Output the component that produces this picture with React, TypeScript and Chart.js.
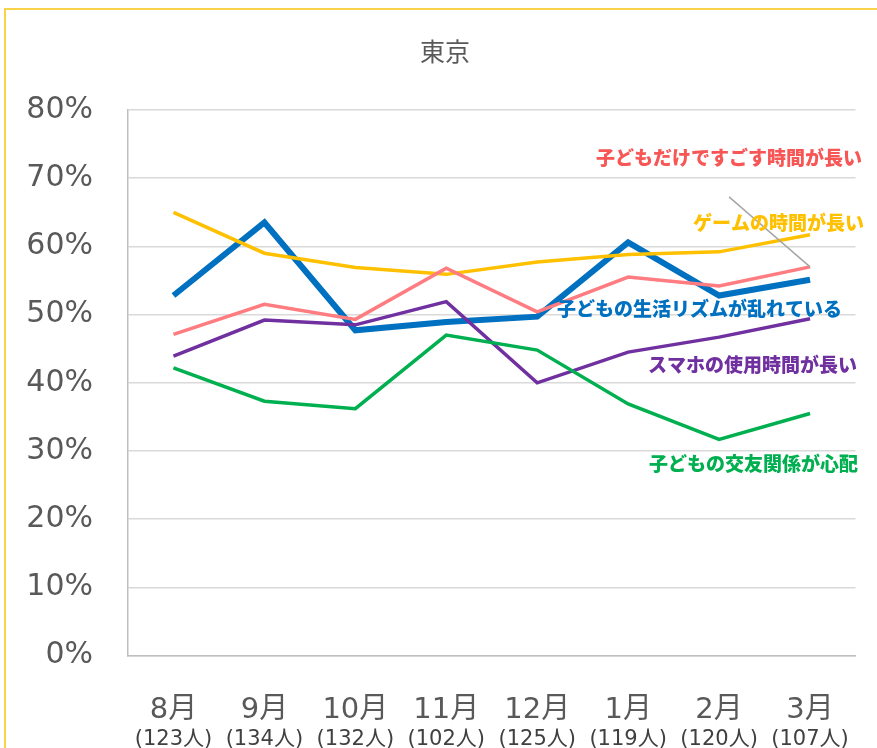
import React, { useEffect, useRef } from "react";
import { Chart, registerables } from "chart.js";

Chart.register(...registerables);

const months = ["8月", "9月", "10月", "11月", "12月", "1月", "2月", "3月"];
const counts = ["(123人)", "(134人)", "(132人)", "(102人)", "(125人)", "(119人)", "(120人)", "(107人)"];
const yTicks = [0, 10, 20, 30, 40, 50, 60, 70, 80];

const rhythm = [52.8, 63.5, 47.7, 48.9, 49.7, 60.6, 52.8, 55.1];
const game = [65.0, 59.0, 56.9, 55.9, 57.7, 58.8, 59.2, 61.7];
const alone = [47.1, 51.5, 49.3, 56.8, 50.4, 55.5, 54.2, 57.0];
const phone = [43.9, 49.2, 48.5, 51.9, 40.0, 44.5, 46.7, 49.4];
const friends = [42.2, 37.3, 36.2, 47.0, 44.8, 36.9, 31.7, 35.5];

const seriesNames = [
  "子どもだけですごす時間が長い",
  "ゲームの時間が長い",
  "子どもの交友関係が心配",
  "スマホの使用時間が長い",
  "子どもの生活リズムが乱れている",
];

const title = "東京";

const CJK = "'Noto Sans CJK JP', sans-serif";
const NUM = "'DejaVu Sans', 'Noto Sans CJK JP', sans-serif";

// label anchors: y value on the scale, offset of right edge from chart area right
const seriesLabels = [
  { text: seriesNames[0], color: "#F85555", yVal: 73.0, dx: 6.5 },
  { text: seriesNames[1], color: "#FFC000", yVal: 63.4, dx: 8.5 },
  { text: seriesNames[4], color: "#0070C0", yVal: 50.9, dx: -13.5 },
  { text: seriesNames[3], color: "#7030A0", yVal: 42.6, dx: 1.5 },
  { text: seriesNames[2], color: "#00B050", yVal: 28.1, dx: 2.5 },
];

const overlayPlugin = {
  id: "overlay",
  afterDatasetsDraw(chart: any) {
    const ctx = chart.ctx;
    const meta = chart.getDatasetMeta(0);
    const last = meta.data[meta.data.length - 1];
    if (last) {
      ctx.save();
      ctx.strokeStyle = "#A6A6A6";
      ctx.lineWidth = 1.5;
      ctx.beginPath();
      ctx.moveTo(last.x - 81, last.y - 70);
      ctx.lineTo(last.x, last.y);
      ctx.stroke();
      ctx.restore();
    }
  },
  afterDraw(chart: any) {
    const ctx = chart.ctx;
    const area = chart.chartArea;
    const ys = chart.scales.y;
    ctx.save();
    ctx.textBaseline = "middle";
    ctx.textAlign = "right";
    ctx.font = `900 19px ${CJK}`;
    for (const l of seriesLabels) {
      ctx.fillStyle = l.color;
      ctx.fillText(l.text, area.right + l.dx, ys.getPixelForValue(l.yVal));
    }
    ctx.textAlign = "center";
    ctx.font = `25px ${CJK}`;
    ctx.fillStyle = "#595959";
    ctx.fillText(title, 445, 51);
    ctx.restore();
  },
};

export default function App() {
  const ref = useRef<HTMLCanvasElement | null>(null);
  useEffect(() => {
    if (!ref.current) return;
    const chart = new Chart(ref.current, {
      type: "line",
      data: {
        labels: months,
        datasets: [
          { label: seriesNames[0], data: alone, borderColor: "#FF7C80", borderWidth: 3.5 },
          { label: seriesNames[1], data: game, borderColor: "#FFC000", borderWidth: 3.5 },
          { label: seriesNames[2], data: friends, borderColor: "#00B050", borderWidth: 3.5 },
          { label: seriesNames[3], data: phone, borderColor: "#7030A0", borderWidth: 3.5 },
          { label: seriesNames[4], data: rhythm, borderColor: "#0070C0", borderWidth: 6 },
        ].map((d) => ({ ...d, pointRadius: 0, tension: 0, fill: false, xAxisID: "x", yAxisID: "y" })),
      },
      options: {
        responsive: false,
        animation: false,
        layout: { padding: { top: 110, right: 21.5, bottom: 0, left: 0 } },
        plugins: { legend: { display: false }, tooltip: { enabled: false }, title: { display: false } },
        scales: {
          x: {
            type: "category",
            offset: true,
            afterFit: (s: any) => {
              s.height = 68.4;
            },
            grid: { display: false, drawTicks: false },
            border: { display: true, color: "#BFBFBF", width: 1.5 },
            ticks: {
              padding: 37,
              color: "#595959",
              font: { size: 29, family: NUM, lineHeight: 1.2 },
              maxRotation: 0,
              autoSkip: false,
            },
          },
          y: {
            min: 0,
            max: 80,
            afterBuildTicks: (s: any) => {
              s.ticks = yTicks.map((v) => ({ value: v }));
            },
            afterFit: (s: any) => {
              s.width = 128;
            },
            grid: { color: "#D9D9D9", lineWidth: 1.5, drawTicks: false },
            border: { display: true, color: "#BFBFBF", width: 1.5 },
            ticks: {
              padding: 35,
              color: "#595959",
              font: { size: 30, family: NUM },
              callback: (v: any) => `${v}%`,
            },
          },
          x2: {
            type: "category",
            labels: counts,
            position: "bottom",
            weight: 1,
            offset: true,
            afterFit: (s: any) => {
              s.height = 24;
            },
            grid: { display: false, drawTicks: false },
            border: { display: false },
            ticks: {
              padding: 3,
              color: "#404040",
              font: { size: 21, family: NUM, lineHeight: 1.2 },
              maxRotation: 0,
              autoSkip: false,
            },
          },
        },
      },
      plugins: [overlayPlugin],
    } as any);
    return () => chart.destroy();
  }, []);

  return (
    <div style={{ position: "fixed", left: 0, top: 0, width: 877, height: 748, overflow: "hidden", background: "#fff" }}>
      <div
        style={{
          position: "absolute",
          left: 4,
          top: 8,
          width: 900,
          height: 800,
          borderTop: "2px solid #FAD24A",
          borderLeft: "2px solid #FAD24A",
        }}
      />
      <canvas ref={ref} width={877} height={748} style={{ position: "absolute", left: 0, top: 0 }} />
    </div>
  );
}
